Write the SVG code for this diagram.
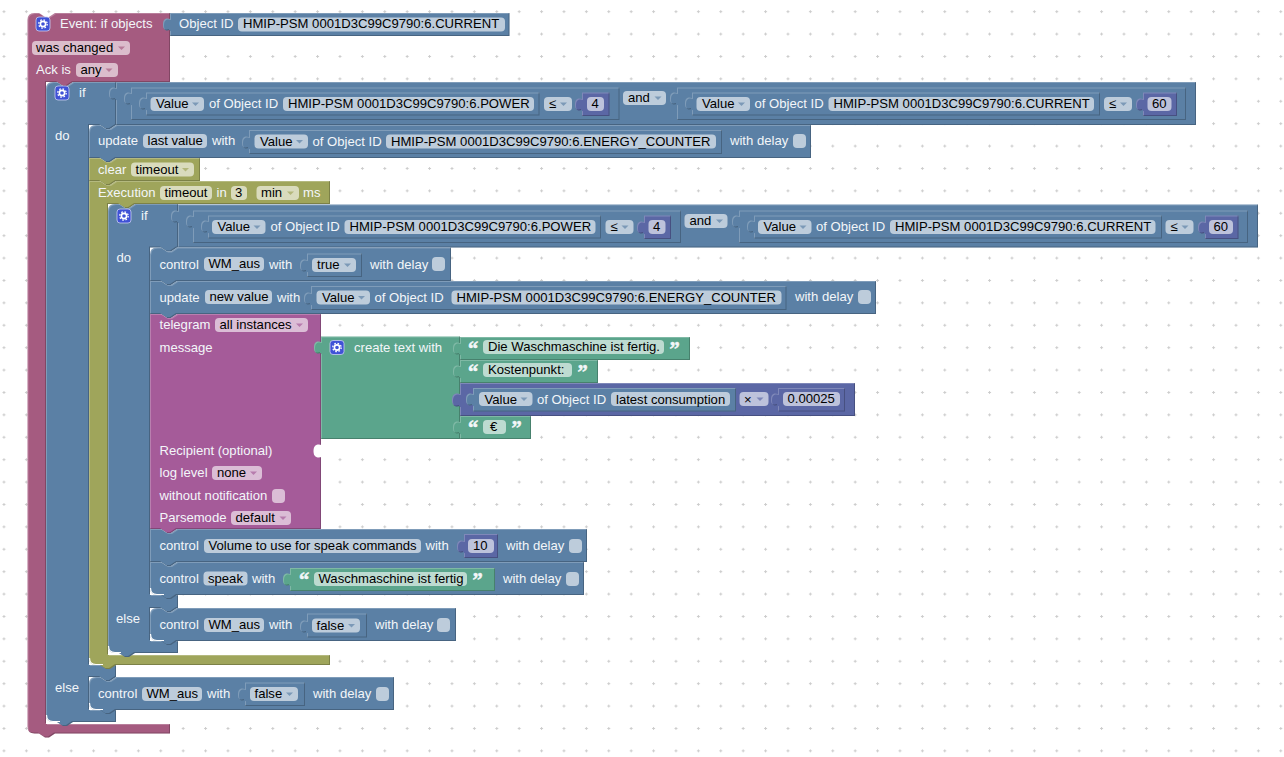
<svg xmlns="http://www.w3.org/2000/svg" width="1284" height="757" viewBox="0 0 1284 757">
<style>
text{font-family:"Liberation Sans",Arial,sans-serif;font-size:13.1px;white-space:pre}
.l{fill:#f3f6f9}
.t{fill:#000;transform:translateY(-.5px)}
text.q{font-family:"Liberation Serif",serif;font-size:20.5px;font-weight:bold;fill:#f3f6f9;stroke:#f3f6f9;stroke-width:.5px}
.pk,.bl,.ol,.mg,.gr,.pu{filter:url(#bevel)}
.pk{fill:#a55b80}
.bl{fill:#5b80a5}
.ol{fill:#9fa55b}
.mg{fill:#a55b99}
.gr{fill:#5ba58c}
.pu{fill:#5b67a5}
.w{fill:none;stroke:#fff;stroke-width:1.2}
.fb{fill:#bdccdb}
.fk{fill:#dbbdcc}
.fo{fill:#d9dbbd}
.fm{fill:#dbbdd6}
.fg{fill:#bddbd1}
.fp{fill:#bdc2db}
.ab{fill:#7c99b7}
.ak{fill:#b77c99}
.ao{fill:#b3b77c}
.am{fill:#b77cad}
.ap{fill:#7c85b7}
</style>
<defs>
<filter id="bevel" x="-3%" y="-3%" width="106%" height="106%" color-interpolation-filters="sRGB">
<feOffset in="SourceAlpha" dx="1" dy="1" result="o1"/>
<feComposite in="SourceAlpha" in2="o1" operator="out" result="h"/>
<feColorMatrix in="h" type="matrix" values="0 0 0 0 1 0 0 0 0 1 0 0 0 0 1 0 0 0 .22 0" result="h2"/>
<feOffset in="SourceAlpha" dx="-1" dy="-1" result="o2"/>
<feComposite in="SourceAlpha" in2="o2" operator="out" result="s"/>
<feColorMatrix in="s" type="matrix" values="0 0 0 0 0 0 0 0 0 0 0 0 0 0 0 0 0 0 .22 0" result="s2"/>
<feMerge><feMergeNode in="SourceGraphic"/><feMergeNode in="h2"/><feMergeNode in="s2"/></feMerge>
</filter>
<pattern id="grid" x="2.5" y="10.2" width="22.4" height="22.4" patternUnits="userSpaceOnUse"><path d="M0,1.5h3M1.500,0v3" stroke="#ccc" stroke-width="1" fill="none"/></pattern>
<path id="a" d="M0,0h7l-3.500,3.500z"/>
<g id="gear"><rect x="0.500" y="0.500" width="14" height="14" rx="3" fill="#3f51d6" stroke="#c9cdf2" stroke-width="0.800"/><circle cx="7.500" cy="7.500" r="2.600" fill="none" stroke="#fff" stroke-width="1.600"/><circle cx="7.500" cy="7.500" r="4.200" fill="none" stroke="#fff" stroke-width="1.300" stroke-dasharray="1.600 1.700"/></g>
</defs>
<rect width="1284" height="757" fill="#fff"/>
<rect width="1284" height="757" fill="url(#grid)"/>

<g id="event">
<path class="pk" d="M27.500,20Q27.500,13 34.500,13H39l6,4h4l6,-4H170V82H73l-6,4h-4l-6,-4H46V724H170V733.500H55l-6,4h-4l-6,-4H34.500Q27.500,733.500 27.500,726.500Z"/>
<use href="#gear" x="35.500" y="16.500"/>
<text class="l" x="60" y="28">Event: if objects</text>
<rect class="fk" x="32" y="41" width="98" height="14" rx="4"/><text class="t" x="36" y="52.500">was changed</text><use href="#a" class="ak" x="118" y="46.500"/>
<text class="l" x="36" y="74">Ack is</text>
<rect class="fk" x="76" y="63" width="42" height="14" rx="4"/><text class="t" x="80.500" y="74.500">any</text><use href="#a" class="ak" x="105.500" y="68.500"/>
</g>
<g id="event-object">
<path class="bl" d="M170,13H509.500V36H170V30c-3,1 -7,1 -7,-5.500s4,-6.500 7,-5.500Z"/>
<text class="l" x="179" y="28">Object ID</text>
<rect class="fb" x="238" y="17.500" width="267" height="14" rx="4"/><text class="t" x="243" y="28.500">HMIP-PSM 0001D3C99C9790:6.CURRENT</text>
</g>

<g id="if-outer">
<path class="bl" d="M46,89Q46,82 53,82H57l6,4h4l6,-4H116V125l-6,4h-4l-6,-4H89V665H116V677l-6,4h-4l-6,-4H89V710H116V722H73l-6,4h-4l-6,-4H53Q46,722 46,715Z"/>
<path class="w" d="M46.500,715Q46.500,721.500 53,721.500H60"/>
<use href="#gear" x="54.500" y="85.500"/>
<text class="l" x="79" y="97">if</text>
<text class="l" x="55" y="140">do</text>
<text class="l" x="55" y="692">else</text>
</g>
<g id="if-outer-cond">
<path class="bl" d="M116,82H1196V125H116V99c-3,1 -7,1 -7,-5.500s4,-6.500 7,-5.500Z"/>
<path class="bl" d="M131,87.500H619.500V120H131V104c-3,1 -7,1 -7,-5.500s4,-6.500 7,-5.500Z"/>
<path class="bl" d="M146,92.500H539.500V115.500H146V109c-3,1 -7,1 -7,-5.500s4,-6.500 7,-5.500Z"/>
<rect class="fb" x="150.500" y="97" width="53.500" height="14" rx="4"/><text class="t" x="156" y="108.500">Value</text><use href="#a" class="ab" x="192" y="102.500"/>
<text class="l" x="209" y="108">of Object ID</text>
<rect class="fb" x="283" y="97" width="251" height="14" rx="4"/><text class="t" x="288" y="108.500">HMIP-PSM 0001D3C99C9790:6.POWER</text>
<rect class="fb" x="544" y="97" width="28" height="14" rx="4"/><text class="t" x="549" y="108.500">≤</text><use href="#a" class="ab" x="560" y="102.500"/>
<path class="pu" d="M582,92.500H609.500V116H582V110c-3,1 -7,1 -7,-5.500s4,-6.500 7,-5.500Z"/>
<rect class="fp" x="587" y="97" width="17" height="14" rx="4"/><text class="t" x="591.500" y="108.500">4</text>
<rect class="fb" x="623" y="91" width="43" height="14" rx="4"/><text class="t" x="628" y="102.500">and</text><use href="#a" class="ab" x="654.500" y="96.500"/>
<path class="bl" d="M677,87.500H1186V120H677V104c-3,1 -7,1 -7,-5.500s4,-6.500 7,-5.500Z"/>
<path class="bl" d="M692,92.500H1100V115.500H692V109c-3,1 -7,1 -7,-5.500s4,-6.500 7,-5.500Z"/>
<rect class="fb" x="696.500" y="97" width="53.500" height="14" rx="4"/><text class="t" x="702" y="108.500">Value</text><use href="#a" class="ab" x="738" y="102.500"/>
<text class="l" x="754.500" y="108">of Object ID</text>
<rect class="fb" x="828.500" y="97" width="265.500" height="14" rx="4"/><text class="t" x="833.500" y="108.500">HMIP-PSM 0001D3C99C9790:6.CURRENT</text>
<rect class="fb" x="1104" y="97" width="28" height="14" rx="4"/><text class="t" x="1109" y="108.500">≤</text><use href="#a" class="ab" x="1120" y="102.500"/>
<path class="pu" d="M1143,92.500H1177V116H1143V110c-3,1 -7,1 -7,-5.500s4,-6.500 7,-5.500Z"/>
<rect class="fp" x="1147.500" y="97" width="24" height="14" rx="4"/><text class="t" x="1152" y="108.500">60</text>
</g>
<g id="update-last">
<path class="bl" d="M89,132Q89,125 96,125H100l6,4h4l6,-4H811V158H116l-6,4h-4l-6,-4H89Z"/>
<text class="l" x="98" y="145">update</text>
<rect class="fb" x="143" y="134" width="64" height="14" rx="4"/><text class="t" x="147.500" y="145.500">last value</text>
<text class="l" x="212" y="145">with</text>
<path class="bl" d="M249,130H722V154H249V148c-3,1 -7,1 -7,-5.500s4,-6.500 7,-5.500Z"/>
<rect class="fb" x="254.500" y="134.500" width="53.500" height="14" rx="4"/><text class="t" x="260" y="146">Value</text><use href="#a" class="ab" x="296" y="140"/>
<text class="l" x="312.500" y="146">of Object ID</text>
<rect class="fb" x="386" y="134.500" width="330" height="14" rx="4"/><text class="t" x="391" y="146">HMIP-PSM 0001D3C99C9790:6.ENERGY_COUNTER</text>
<text class="l" x="730" y="145">with delay</text>
<rect class="fb" x="793" y="134" width="13" height="14" rx="4"/>
</g>
<g id="clear">
<path class="ol" d="M89,158H100l6,4h4l6,-4H200V181H116l-6,4h-4l-6,-4H89Z"/>
<text class="l" x="98" y="174">clear</text>
<rect class="fo" x="131" y="162.500" width="63" height="14" rx="4"/><text class="t" x="135.500" y="174.500">timeout</text><use href="#a" class="ao" x="182" y="168"/>
</g>
<g id="execution">
<path class="ol" d="M89,181H100l6,4h4l6,-4H330V204H135l-6,4h-4l-6,-4H108V655H330V665H116l-6,4h-4l-6,-4H96Q89,665 89,658Z"/>
<path class="w" d="M89.500,658Q89.500,664.500 96,664.500H103"/>
<text class="l" x="98" y="197">Execution</text>
<rect class="fo" x="160" y="186" width="52" height="14" rx="4"/><text class="t" x="164.500" y="197.500">timeout</text>
<text class="l" x="216.500" y="197">in</text>
<rect class="fo" x="231" y="186" width="16" height="14" rx="4"/><text class="t" x="235" y="197.500">3</text>
<rect class="fo" x="256.500" y="186" width="42.500" height="14" rx="4"/><text class="t" x="261" y="197.500">min</text><use href="#a" class="ao" x="287" y="191.500"/>
<text class="l" x="303" y="197">ms</text>
</g>

<g id="if-inner">
<path class="bl" d="M108,211Q108,204 115,204H119l6,4h4l6,-4H178V247.500H177l-6,4h-4l-6,-4H150V595H178V608H177l-6,4h-4l-6,-4H150V641H178V653H135l-6,4h-4l-6,-4H115Q108,653 108,646Z"/>
<path class="w" d="M108.500,646Q108.500,652.500 115,652.500H121"/>
<use href="#gear" x="116.500" y="208.500"/>
<text class="l" x="141" y="220">if</text>
<text class="l" x="116.500" y="262">do</text>
<text class="l" x="116" y="623">else</text>
</g>
<g id="if-inner-cond">
<path class="bl" d="M178,204.500H1258V247.500H178V222c-3,1 -7,1 -7,-5.500s4,-6.500 7,-5.500Z"/>
<path class="bl" d="M193,210.500H681V243H193V227c-3,1 -7,1 -7,-5.500s4,-6.500 7,-5.500Z"/>
<path class="bl" d="M208,215.500H601V238.500H208V232c-3,1 -7,1 -7,-5.500s4,-6.500 7,-5.500Z"/>
<rect class="fb" x="212" y="220" width="53.500" height="14" rx="4"/><text class="t" x="217.500" y="231.500">Value</text><use href="#a" class="ab" x="253.500" y="225.500"/>
<text class="l" x="270.500" y="231">of Object ID</text>
<rect class="fb" x="344.500" y="220" width="251" height="14" rx="4"/><text class="t" x="349.500" y="231.500">HMIP-PSM 0001D3C99C9790:6.POWER</text>
<rect class="fb" x="605.500" y="220" width="28" height="14" rx="4"/><text class="t" x="610.500" y="231.500">≤</text><use href="#a" class="ab" x="621.500" y="225.500"/>
<path class="pu" d="M644,215.500H671V239H644V233c-3,1 -7,1 -7,-5.500s4,-6.500 7,-5.500Z"/>
<rect class="fp" x="648.500" y="220" width="17" height="14" rx="4"/><text class="t" x="653" y="231.500">4</text>
<rect class="fb" x="684.500" y="214" width="43" height="14" rx="4"/><text class="t" x="689.500" y="225.500">and</text><use href="#a" class="ab" x="716" y="219.500"/>
<path class="bl" d="M739,210.500H1248V243H739V227c-3,1 -7,1 -7,-5.500s4,-6.500 7,-5.500Z"/>
<path class="bl" d="M754,215.500H1162V238.500H754V232c-3,1 -7,1 -7,-5.500s4,-6.500 7,-5.500Z"/>
<rect class="fb" x="758" y="220" width="53.500" height="14" rx="4"/><text class="t" x="763.500" y="231.500">Value</text><use href="#a" class="ab" x="799.500" y="225.500"/>
<text class="l" x="816" y="231">of Object ID</text>
<rect class="fb" x="890" y="220" width="265.500" height="14" rx="4"/><text class="t" x="895" y="231.500">HMIP-PSM 0001D3C99C9790:6.CURRENT</text>
<rect class="fb" x="1165.500" y="220" width="28" height="14" rx="4"/><text class="t" x="1170.500" y="231.500">≤</text><use href="#a" class="ab" x="1181.500" y="225.500"/>
<path class="pu" d="M1205,215.500H1238.500V239H1205V233c-3,1 -7,1 -7,-5.500s4,-6.500 7,-5.500Z"/>
<rect class="fp" x="1209" y="220" width="24" height="14" rx="4"/><text class="t" x="1213.500" y="231.500">60</text>
</g>

<g id="control-wm-true">
<path class="bl" d="M150,254.500Q150,247.500 157,247.500H161l6,4h4l6,-4H451V281H177l-6,4h-4l-6,-4H150Z"/>
<text class="l" x="159.500" y="269">control</text>
<rect class="fb" x="204" y="257" width="60" height="14" rx="4"/><text class="t" x="208.500" y="268.500">WM_aus</text>
<text class="l" x="269" y="269">with</text>
<path class="bl" d="M307,253.500H362V277H307V271c-3,1 -7,1 -7,-5.500s4,-6.500 7,-5.500Z"/>
<rect class="fb" x="312" y="258" width="44" height="14" rx="4"/><text class="t" x="317" y="269.500">true</text><use href="#a" class="ab" x="344" y="263.500"/>
<text class="l" x="370" y="269">with delay</text>
<rect class="fb" x="432" y="257" width="13" height="14" rx="4"/>
</g>
<g id="update-new">
<path class="bl" d="M150,281H161l6,4h4l6,-4H876V314H177l-6,4h-4l-6,-4H150Z"/>
<text class="l" x="159.500" y="302">update</text>
<rect class="fb" x="205" y="290" width="67" height="14" rx="4"/><text class="t" x="209.500" y="301.500">new value</text>
<text class="l" x="277" y="302">with</text>
<path class="bl" d="M311,286H786.500V310H311V304c-3,1 -7,1 -7,-5.500s4,-6.500 7,-5.500Z"/>
<rect class="fb" x="316.500" y="290.500" width="53.500" height="14" rx="4"/><text class="t" x="322" y="302">Value</text><use href="#a" class="ab" x="358" y="296"/>
<text class="l" x="374.500" y="302">of Object ID</text>
<rect class="fb" x="451.500" y="290.500" width="330" height="14" rx="4"/><text class="t" x="456.500" y="302">HMIP-PSM 0001D3C99C9790:6.ENERGY_COUNTER</text>
<text class="l" x="795" y="301">with delay</text>
<rect class="fb" x="858" y="290" width="13" height="14" rx="4"/>
</g>
<g id="telegram">
<path class="mg" d="M150,314H161l6,4h4l6,-4H321V529H177l-6,4h-4l-6,-4H150Z"/>
<text class="l" x="159.500" y="329">telegram</text>
<rect class="fm" x="215" y="318" width="93" height="14" rx="4"/><text class="t" x="219.500" y="329.500">all instances</text><use href="#a" class="am" x="296" y="323.500"/>
<text class="l" x="159.500" y="352">message</text>
<text class="l" x="159.500" y="455">Recipient (optional)</text>
<path d="M321.500,457c-3,1 -8,1 -8,-6s5,-7 8,-6Z" fill="#fff"/>
<text class="l" x="159.500" y="477">log level</text>
<rect class="fm" x="212" y="466" width="50" height="14" rx="4"/><text class="t" x="217" y="477.500">none</text><use href="#a" class="am" x="250" y="471.500"/>
<text class="l" x="159.500" y="500">without notification</text>
<rect class="fm" x="272" y="489" width="13" height="14" rx="4"/>
<text class="l" x="159.500" y="522">Parsemode</text>
<rect class="fm" x="231" y="511" width="60" height="14" rx="4"/><text class="t" x="235.500" y="522.500">default</text><use href="#a" class="am" x="279.500" y="516.500"/>
</g>
<g id="create-text">
<path class="gr" d="M321,336.500H460V439H321V353c-3,1 -7,1 -7,-5.500s4,-6.500 7,-5.500Z"/>
<use href="#gear" x="329.500" y="340"/>
<text class="l" x="354" y="352">create text with</text>
</g>
<g id="text-1">
<path class="gr" d="M460,337H690V360H460V354c-3,1 -7,1 -7,-5.500s4,-6.500 7,-5.500Z"/>
<text class="q" x="468" y="356">“</text>
<rect class="fg" x="483" y="340" width="181" height="14" rx="4"/><text class="t" x="488" y="351.500">Die Waschmaschine ist fertig.</text>
<text class="q" x="669.500" y="356">”</text>
</g>
<g id="text-2">
<path class="gr" d="M460,360H598V383H460V377c-3,1 -7,1 -7,-5.500s4,-6.500 7,-5.500Z"/>
<text class="q" x="468" y="379">“</text>
<rect class="fg" x="483" y="363" width="89" height="14" rx="4"/><text class="t" x="488" y="374.500">Kostenpunkt:</text>
<text class="q" x="577.500" y="379">”</text>
</g>
<g id="multiply">
<path class="pu" d="M460,383H855V416H460V406c-3,1 -8,1 -8,-6s5,-7 8,-6Z"/>
<path class="bl" d="M473,388H736V411.500H473V405c-3,1 -7,1 -7,-5.500s4,-6.500 7,-5.500Z"/>
<rect class="fb" x="479" y="392" width="53.500" height="14" rx="4"/><text class="t" x="484.500" y="404">Value</text><use href="#a" class="ab" x="520.500" y="397.500"/>
<text class="l" x="537" y="404">of Object ID</text>
<rect class="fb" x="611" y="392" width="119" height="14" rx="4"/><text class="t" x="616" y="404">latest consumption</text>
<rect class="fp" x="739.500" y="392" width="29" height="14" rx="4"/><text class="t" x="744" y="404">×</text><use href="#a" class="ap" x="756.500" y="397.500"/>
<path class="pu" d="M778,388H845V411.500H778V405c-3,1 -7,1 -7,-5.500s4,-6.500 7,-5.500Z"/>
<rect class="fp" x="783" y="392" width="57" height="14" rx="4"/><text class="t" x="787.500" y="403.500">0.00025</text>
</g>
<g id="text-3">
<path class="gr" d="M460,416H531V439H460V433c-3,1 -7,1 -7,-5.500s4,-6.500 7,-5.500Z"/>
<text class="q" x="468" y="435">“</text>
<rect class="fg" x="483" y="420" width="23" height="14" rx="4"/><text class="t" x="490" y="431.500">€</text>
<text class="q" x="511.500" y="435">”</text>
</g>
<g id="control-volume">
<path class="bl" d="M150,529H161l6,4h4l6,-4H587V562H177l-6,4h-4l-6,-4H150Z"/>
<text class="l" x="159.500" y="550">control</text>
<rect class="fb" x="204" y="539" width="217" height="14" rx="4"/><text class="t" x="208.500" y="550.500">Volume to use for speak commands</text>
<text class="l" x="425.500" y="550">with</text>
<path class="pu" d="M464,534H498V558H464V552c-3,1 -7,1 -7,-5.500s4,-6.500 7,-5.500Z"/>
<rect class="fp" x="468" y="539" width="26" height="14" rx="4"/><text class="t" x="473" y="550.500">10</text>
<text class="l" x="506" y="550">with delay</text>
<rect class="fb" x="569" y="539" width="13" height="14" rx="4"/>
</g>
<g id="control-speak">
<path class="bl" d="M150,562H161l6,4h4l6,-4H584V595H177l-6,4h-4l-6,-4H157Q150,595 150,588Z"/>
<path class="w" d="M150.500,588Q150.500,594.500 157,594.500H164"/>
<text class="l" x="159.500" y="583">control</text>
<rect class="fb" x="203.500" y="571.500" width="44" height="14" rx="4"/><text class="t" x="208" y="583">speak</text>
<text class="l" x="252" y="583">with</text>
<path class="gr" d="M290,568H495V591H290V585c-3,1 -7,1 -7,-5.500s4,-6.500 7,-5.500Z"/>
<text class="q" x="299" y="587">“</text>
<rect class="fg" x="314" y="572" width="153" height="14" rx="4"/><text class="t" x="318.500" y="583.500">Waschmaschine ist fertig</text>
<text class="q" x="472.500" y="587">”</text>
<text class="l" x="503" y="583">with delay</text>
<rect class="fb" x="566" y="572" width="13" height="14" rx="4"/>
</g>
<g id="control-wm-false-1">
<path class="bl" d="M150,615Q150,608 157,608H161l6,4h4l6,-4H456V641H177l-6,4h-4l-6,-4H157Q150,641 150,634Z"/>
<path class="w" d="M150.500,634Q150.500,640.500 157,640.500H164"/>
<text class="l" x="159.500" y="629">control</text>
<rect class="fb" x="204" y="618" width="60" height="14" rx="4"/><text class="t" x="208.500" y="629.500">WM_aus</text>
<text class="l" x="269" y="629">with</text>
<path class="bl" d="M307,613.500H367V637.500H307V632c-3,1 -7,1 -7,-5.500s4,-6.500 7,-5.500Z"/>
<rect class="fb" x="312" y="618.500" width="48" height="14" rx="4"/><text class="t" x="316.500" y="630">false</text><use href="#a" class="ab" x="348" y="624"/>
<text class="l" x="375" y="629">with delay</text>
<rect class="fb" x="437" y="618" width="13" height="14" rx="4"/>
</g>
<g id="control-wm-false-2">
<path class="bl" d="M89,684Q89,677 96,677H100l6,4h4l6,-4H394V710H116l-6,4h-4l-6,-4H96Q89,710 89,703Z"/>
<path class="w" d="M89.500,703Q89.500,709.500 96,709.500H103"/>
<text class="l" x="98" y="698">control</text>
<rect class="fb" x="142" y="687" width="60" height="14" rx="4"/><text class="t" x="146.500" y="698.500">WM_aus</text>
<text class="l" x="207" y="698">with</text>
<path class="bl" d="M245,682.500H305V706H245V700c-3,1 -7,1 -7,-5.500s4,-6.500 7,-5.500Z"/>
<rect class="fb" x="250" y="687" width="48" height="14" rx="4"/><text class="t" x="254.500" y="698.500">false</text><use href="#a" class="ab" x="286" y="692.500"/>
<text class="l" x="313" y="698">with delay</text>
<rect class="fb" x="376" y="687" width="13" height="14" rx="4"/>
</g>
</svg>
